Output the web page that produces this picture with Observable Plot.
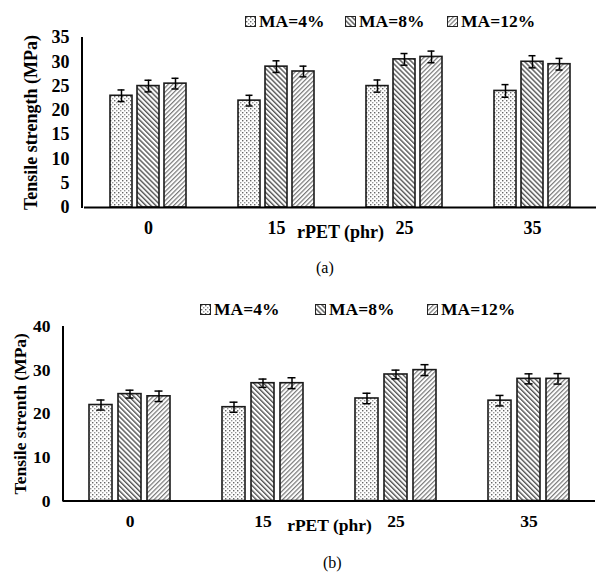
<!DOCTYPE html>
<html><head><meta charset="utf-8">
<script src="https://cdn.jsdelivr.net/npm/d3@7"></script>
<script src="https://cdn.jsdelivr.net/npm/@observablehq/plot@0.6"></script>
<style>
body{margin:0;background:#fff;width:597px;height:574px;position:relative;overflow:hidden;font-family:'Liberation Serif',serif;color:#000;}
.item{position:absolute;font-family:'Liberation Serif',serif;font-weight:bold;font-size:17.5px;line-height:20px;white-space:nowrap;display:flex;align-items:center;}
.sw{display:inline-block;width:9px;height:9px;border:1px solid #222;margin-right:3px;}
.sw svg{display:block}
.cap{position:absolute;font-family:'Liberation Serif',serif;font-size:16px;line-height:20px;}
.panel{position:absolute;left:0;}
.panel svg text{font-family:'Liberation Serif',serif !important;font-weight:bold;}
</style>
</head><body>
<svg width="0" height="0" style="position:absolute">
  <defs>
    <pattern id="p4" width="4" height="4" patternUnits="userSpaceOnUse">
      <rect width="4" height="4" fill="#fff"/>
      <rect x="0" y="0" width="1.4" height="1.4" fill="#666"/>
      <rect x="2" y="2" width="1.4" height="1.4" fill="#999"/>
    </pattern>
    <pattern id="p8" width="3.5" height="3.5" patternUnits="userSpaceOnUse" patternTransform="rotate(-45)">
      <rect width="3.5" height="3.5" fill="#fff"/>
      <rect width="1.4" height="3.5" fill="#555"/>
    </pattern>
    <pattern id="p12" width="3.2" height="3.2" patternUnits="userSpaceOnUse" patternTransform="rotate(45)">
      <rect width="3.2" height="3.2" fill="#fff"/>
      <rect width="1.2" height="3.2" fill="#7a7a7a"/>
    </pattern>
  </defs>
</svg>
<div id="legA"></div>
<div id="panelA" class="panel" style="top:28px"></div>
<div class="cap" style="left:316px;top:258px">(a)</div>
<div id="legB"></div>
<div id="panelB" class="panel" style="top:318px"></div>
<div class="cap" style="left:323px;top:553px">(b)</div>
<script>
// ---- data ----
const rpet = ["0", "15", "25", "35"];
const series = ["MA=4%", "MA=8%", "MA=12%"];
const patterns = ["url(#p4)", "url(#p8)", "url(#p12)"];

const aMA4 = [23, 22, 25, 24];
const aMA8 = [25, 29, 30.5, 30];
const aMA12 = [25.5, 28, 31, 29.5];
const aErr4 = [1.2, 1.1, 1.25, 1.3];
const aErr8 = [1.2, 1.2, 1.2, 1.25];
const aErr12 = [1.1, 1.1, 1.2, 1.2];
const aYTicks = [0, 5, 10, 15, 20, 25, 30, 35];

const bMA4 = [22, 21.5, 23.5, 23];
const bMA8 = [24.5, 27, 29, 28];
const bMA12 = [24, 27, 30, 28];
const bErr4 = [1.15, 1.15, 1.2, 1.2];
const bErr8 = [0.9, 0.95, 1.0, 1.15];
const bErr12 = [1.2, 1.25, 1.25, 1.2];
const bYTicks = [0, 10, 20, 30, 40];

function rowsOf(vals, errs) {
  const out = [];
  series.forEach((s, si) => rpet.forEach((r, ri) => out.push({rpet: r, ma: s, value: vals[si][ri], err: errs[si][ri]})));
  return out;
}

function legend(el, lefts, top) {
  series.forEach((s, i) => {
    const d = document.createElement("div");
    d.className = "item";
    d.style.left = lefts[i] + "px";
    d.style.top = top + "px";
    d.innerHTML = `<span class="sw"><svg width="9" height="9"><rect width="9" height="9" fill="${patterns[i]}"/></svg></span>${s}`;
    el.appendChild(d);
  });
}

function panel(rows, o) {
  const marks = [];
  series.forEach((s, i) => {
    marks.push(Plot.barY(rows.filter(d => d.ma === s), {fx: "rpet", x: "ma", y: "value", fill: patterns[i], stroke: "#1a1a1a", strokeWidth: 1.6}));
  });
  marks.push(Plot.ruleX(rows, {fx: "rpet", x: "ma", y1: d => d.value - d.err, y2: d => d.value + d.err, stroke: "#000", strokeWidth: 1.5}));
  marks.push(Plot.tickY(rows, {fx: "rpet", x: "ma", y: d => d.value - d.err, insetLeft: 7.5, insetRight: 7.5, stroke: "#000", strokeWidth: 1.5}));
  marks.push(Plot.tickY(rows, {fx: "rpet", x: "ma", y: d => d.value + d.err, insetLeft: 7.5, insetRight: 7.5, stroke: "#000", strokeWidth: 1.5}));
  marks.push(Plot.ruleY([0], {stroke: "#000", strokeWidth: 2}));
  const plot = Plot.plot({
    width: 597, height: o.height,
    marginLeft: o.ml, marginRight: o.mr, marginTop: o.mt, marginBottom: o.mb,
    style: `font-family:'Liberation Serif',serif;font-weight:bold;font-size:${o.fs}px;color:#000;background:transparent;overflow:visible;`,
    fx: {domain: rpet, padding: 0, axis: "bottom", tickSize: 0, tickPadding: o.fxPad, label: "rPET (phr)", labelAnchor: "center", labelOffset: o.fxLab, labelArrow: false},
    x: {domain: series, axis: null, paddingInner: o.pi, paddingOuter: o.po},
    y: {domain: [0, o.ymax], ticks: o.ticks, tickSize: 0, tickPadding: o.yPad, label: o.ylabel, labelAnchor: "center", labelOffset: o.yLab, labelArrow: false},
    marks
  });
  d3.select(plot).attr("font-family", "Liberation Serif").attr("font-weight", "bold").attr("font-size", o.fs);
  // left axis line drawn through the plot's own y scale
  const y = plot.scale("y");
  d3.select(plot).append("line")
    .attr("x1", o.ml).attr("x2", o.ml)
    .attr("y1", y.apply(o.ymax)).attr("y2", y.apply(0) + 1)
    .attr("stroke", "#000").attr("stroke-width", 2);
  return plot;
}

const rowsA = rowsOf([aMA4, aMA8, aMA12], [aErr4, aErr8, aErr12]);
const rowsB = rowsOf([bMA4, bMA8, bMA12], [bErr4, bErr8, bErr12]);

document.getElementById("panelA").appendChild(panel(rowsA, {
  height: 220, ml: 82, mr: 0, mt: 9, mb: 41, fs: 18,
  fxPad: 14, fxLab: 30, pi: 0.18, po: 0.89,
  ymax: 35, ticks: aYTicks, yPad: 15, ylabel: "Tensile strength (MPa)", yLab: 60
}));
document.getElementById("panelB").appendChild(panel(rowsB, {
  height: 220, ml: 63, mr: 2, mt: 8, mb: 37.5, fs: 17.5,
  fxPad: 14, fxLab: 30, pi: 0.22, po: 0.864,
  ymax: 40, ticks: bYTicks, yPad: 13, ylabel: "Tensile strenth (MPa)", yLab: 50
}));

legend(document.getElementById("legA"), [245, 345, 447], 11);
legend(document.getElementById("legB"), [200, 315, 427], 299);
</script>
</body></html>
